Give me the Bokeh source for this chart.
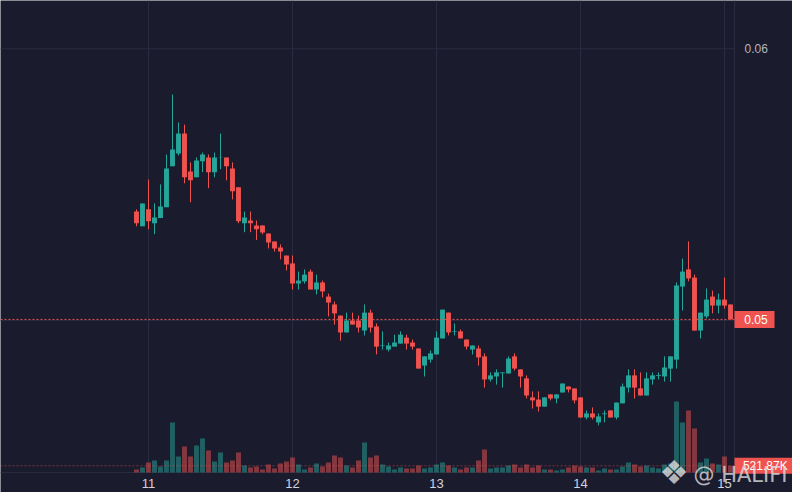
from bokeh.plotting import figure
from bokeh.models import Range1d, ColumnDataSource
from bokeh.core.properties import value
from bokeh.embed import file_html
from bokeh.resources import INLINE

# ---- data (hourly candles, x = hours from day "11" 00:00) ----
hours = list(range(-2, 98))
day_ticks = [0, 24, 48, 72, 96]
day_labels = ["11", "12", "13", "14", "15"]
price_ticks = [0.05, 0.06]
price_tick_labels = ["0.06"]          # 0.05 tick label is hidden under the last-price tag
price_tick_label_values = [0.06]

opens = [0.05401, 0.05347, 0.05409, 0.05358, 0.05377, 0.05417, 0.05568, 0.05615, 0.05688, 0.05548,
         0.05527, 0.05586, 0.05600, 0.05546, 0.05599, 0.05600, 0.05559, 0.05490, 0.05358, 0.05368,
         0.05350, 0.05350, 0.05320, 0.05291, 0.05269, 0.05239, 0.05210, 0.05136, 0.05144, 0.05180,
         0.05114, 0.05140, 0.05088, 0.05059, 0.05018, 0.04956, 0.05000, 0.05000, 0.04963, 0.05029,
         0.04978, 0.04907, 0.04893, 0.04904, 0.04915, 0.04937, 0.04919, 0.04897, 0.04834, 0.04856,
         0.04875, 0.04934, 0.05029, 0.04958, 0.04960, 0.04930, 0.04893, 0.04897, 0.04868, 0.04783,
         0.04794, 0.04806, 0.04805, 0.04868, 0.04820, 0.04787, 0.04717, 0.04709, 0.04683, 0.04728,
         0.04713, 0.04735, 0.04757, 0.04750, 0.04717, 0.04643, 0.04658, 0.04625, 0.04655, 0.04669,
         0.04643, 0.04695, 0.04753, 0.04798, 0.04750, 0.04724, 0.04783, 0.04796, 0.04794, 0.04823,
         0.04856, 0.05125, 0.05188, 0.05158, 0.04963, 0.05015, 0.05088, 0.05055, 0.05077, 0.05059]
highs = [0.05409, 0.05431, 0.05519, 0.05431, 0.05501, 0.05611, 0.05832, 0.05729, 0.05721, 0.05582,
         0.05600, 0.05618, 0.05611, 0.05618, 0.05688, 0.05600, 0.05582, 0.05490, 0.05401, 0.05401,
         0.05368, 0.05350, 0.05320, 0.05291, 0.05280, 0.05239, 0.05239, 0.05180, 0.05188, 0.05188,
         0.05169, 0.05147, 0.05099, 0.05070, 0.05018, 0.05029, 0.05029, 0.05018, 0.05059, 0.05040,
         0.04989, 0.04960, 0.04919, 0.04948, 0.04960, 0.04948, 0.04930, 0.04897, 0.04868, 0.04890,
         0.04960, 0.05040, 0.05029, 0.04989, 0.04967, 0.04930, 0.04908, 0.04908, 0.04879, 0.04809,
         0.04820, 0.04809, 0.04868, 0.04879, 0.04820, 0.04798, 0.04739, 0.04739, 0.04717, 0.04728,
         0.04728, 0.04768, 0.04757, 0.04750, 0.04717, 0.04669, 0.04680, 0.04658, 0.04669, 0.04669,
         0.04698, 0.04768, 0.04820, 0.04820, 0.04809, 0.04809, 0.04809, 0.04809, 0.04868, 0.04868,
         0.05140, 0.05228, 0.05291, 0.05169, 0.05029, 0.05118, 0.05110, 0.05099, 0.05158, 0.05059]
lows = [0.05347, 0.05347, 0.05336, 0.05318, 0.05377, 0.05417, 0.05568, 0.05607, 0.05505, 0.05435,
        0.05527, 0.05546, 0.05487, 0.05527, 0.05557, 0.05516, 0.05446, 0.05358, 0.05325, 0.05325,
        0.05296, 0.05317, 0.05265, 0.05254, 0.05225, 0.05184, 0.05114, 0.05114, 0.05136, 0.05114,
        0.05096, 0.05085, 0.05015, 0.04985, 0.04926, 0.04956, 0.04985, 0.04956, 0.04945, 0.04956,
        0.04875, 0.04893, 0.04886, 0.04904, 0.04915, 0.04893, 0.04893, 0.04823, 0.04794, 0.04845,
        0.04875, 0.04934, 0.04945, 0.04945, 0.04934, 0.04893, 0.04875, 0.04834, 0.04753, 0.04775,
        0.04764, 0.04753, 0.04805, 0.04816, 0.04753, 0.04713, 0.04676, 0.04665, 0.04683, 0.04706,
        0.04695, 0.04735, 0.04735, 0.04695, 0.04643, 0.04636, 0.04636, 0.04614, 0.04625, 0.04643,
        0.04636, 0.04695, 0.04735, 0.04713, 0.04724, 0.04724, 0.04764, 0.04783, 0.04775, 0.04775,
        0.04823, 0.05037, 0.05144, 0.04963, 0.04934, 0.05007, 0.05026, 0.05026, 0.05044, 0.05004]
closes = [0.05358, 0.05431, 0.05365, 0.05379, 0.05420, 0.05559, 0.05629, 0.05688, 0.05527, 0.05516,
          0.05589, 0.05611, 0.05546, 0.05600, 0.05600, 0.05568, 0.05476, 0.05365, 0.05379, 0.05358,
          0.05336, 0.05324, 0.05287, 0.05265, 0.05254, 0.05206, 0.05136, 0.05147, 0.05169, 0.05114,
          0.05140, 0.05107, 0.05066, 0.05026, 0.04956, 0.05000, 0.04985, 0.04974, 0.05029, 0.04974,
          0.04904, 0.04909, 0.04908, 0.04919, 0.04948, 0.04915, 0.04904, 0.04823, 0.04868, 0.04879,
          0.04937, 0.05040, 0.04956, 0.04960, 0.04934, 0.04904, 0.04908, 0.04864, 0.04783, 0.04798,
          0.04809, 0.04809, 0.04860, 0.04823, 0.04794, 0.04724, 0.04706, 0.04683, 0.04717, 0.04713,
          0.04728, 0.04768, 0.04746, 0.04706, 0.04643, 0.04658, 0.04643, 0.04647, 0.04658, 0.04643,
          0.04698, 0.04757, 0.04798, 0.04753, 0.04724, 0.04787, 0.04798, 0.04799, 0.04827, 0.04868,
          0.05129, 0.05180, 0.05155, 0.04963, 0.05029, 0.05077, 0.05055, 0.05077, 0.05055, 0.05004]
volumes = [234000, 389000, 779000, 935000, 467000, 935000, 3895000, 1246000, 2025000, 1246000,
           2103000, 2648000, 1714000, 857000, 1558000, 779000, 935000, 1558000, 545000, 389000,
           467000, 234000, 623000, 312000, 701000, 857000, 1168000, 623000, 234000, 389000,
           701000, 467000, 779000, 1324000, 1168000, 545000, 389000, 935000, 2337000, 1168000,
           1324000, 623000, 467000, 234000, 389000, 312000, 312000, 545000, 312000, 389000,
           623000, 779000, 545000, 389000, 234000, 389000, 389000, 935000, 1791000, 312000,
           389000, 389000, 545000, 623000, 389000, 623000, 389000, 545000, 234000, 234000,
           156000, 234000, 389000, 545000, 467000, 389000, 389000, 156000, 312000, 234000,
           234000, 467000, 779000, 623000, 467000, 545000, 389000, 312000, 623000, 701000,
           5530000, 3895000, 4829000, 3427000, 779000, 1090000, 701000, 623000, 1246000, 521870]
watermark = "@ HALIFI"
logo = "\u2756"

# ---- styling / layout constants ----
BG = "#1b1b2e"
GRID = "#2a2b3e"
UP = "#26a69a"
DOWN = "#ef5350"
FONT = value("Liberation Sans")

X_START, X_END = -24.6667, 107.3333          # full canvas, hours
Y_START, Y_END = 0.0436695, 0.0617776        # full canvas, price
CHART_RIGHT = 97.667                         # right edge of the candle pane
CHART_BOTTOM = 0.0444056                     # bottom edge of the candle pane
AXIS_LABEL_Y = 0.0439824                     # row of day labels
SCALE_TEXT_X = 99.333                        # left edge of price-scale texts

colors = [UP if c >= o else DOWN for o, c in zip(opens, closes)]
src = ColumnDataSource(dict(
    x=hours, high=highs, low=lows,
    top=[max(o, c) for o, c in zip(opens, closes)],
    bot=[min(o, c) for o, c in zip(opens, closes)],
    volume=volumes, color=colors))

p = figure(width=792, height=492, title=None,
           x_range=Range1d(X_START, X_END), y_range=Range1d(Y_START, Y_END),
           x_axis_location=None, y_axis_location=None,
           output_backend="svg", toolbar_location=None, min_border=0)
p.extra_y_ranges = {"vol": Range1d(-1557800, 36764080)}
p.background_fill_color = BG
p.border_fill_color = BG
p.outline_line_color = None
p.xgrid.visible = False
p.ygrid.visible = False

# grid lines and pane borders
p.segment(x0=day_ticks, y0=CHART_BOTTOM, x1=day_ticks, y1=Y_END, line_color=GRID, line_width=1)
p.segment(x0=X_START, y0=price_ticks, x1=CHART_RIGHT, y1=price_ticks, line_color=GRID, line_width=1)
p.segment(x0=[CHART_RIGHT], y0=CHART_BOTTOM, x1=[CHART_RIGHT], y1=Y_END, line_color=GRID, line_width=1)
p.segment(x0=[X_START], y0=CHART_BOTTOM, x1=[CHART_RIGHT], y1=CHART_BOTTOM, line_color=GRID, line_width=1)

# volume
p.vbar(x="x", top="volume", bottom=0, width=0.82, source=src, y_range_name="vol",
       fill_color="color", fill_alpha=0.5, line_color=None)
p.segment(x0=[X_START], y0=[volumes[-1]], x1=[CHART_RIGHT], y1=[volumes[-1]], y_range_name="vol",
          line_color=DOWN, line_alpha=0.45, line_dash="2 2", line_width=1)

# candles
p.segment(x0="x", y0="low", x1="x", y1="high", source=src, line_color="color", line_width=1)
p.vbar(x="x", top="top", bottom="bot", width=0.82, source=src, fill_color="color", line_color=None)

# last-price line
p.segment(x0=[X_START], y0=[closes[-1]], x1=[CHART_RIGHT], y1=[closes[-1]],
          line_color=DOWN, line_dash="2 2", line_width=1)

# price scale labels
p.text(x=SCALE_TEXT_X, y=price_tick_label_values, text=price_tick_labels, text_font=FONT,
       text_font_size="12px", text_color="#b2b5be", text_align="left", text_baseline="middle")
# last price tag
p.rect(x=[101.0], y=[closes[-1]], width=40, height=17, width_units="screen", height_units="screen",
       fill_color=DOWN, line_color=None)
p.text(x=[101.25], y=[closes[-1]], text=[f"{closes[-1]:.2f}"], text_font=FONT, text_font_size="12px",
       text_color="white", text_align="center", text_baseline="middle")
# last volume tag
p.rect(x=[102.5], y=[volumes[-1]], width=58, height=16, width_units="screen", height_units="screen",
       fill_color=DOWN, line_color=None, y_range_name="vol")
p.text(x=[102.8], y=[volumes[-1]], text=[f"{volumes[-1]/1000:.2f}K"], text_font=FONT,
       text_font_size="12px", text_color="white", text_align="center", text_baseline="middle",
       y_range_name="vol")

# day labels
p.text(x=day_ticks, y=AXIS_LABEL_Y, text=day_labels, text_font=FONT, text_font_size="13px",
       text_color="#d1d4dc", text_align="center", text_baseline="middle")

# watermark
p.text(x=[87.583], y=[0.0444056], text=[logo], text_font=value("DejaVu Sans"), text_font_size="33px",
       text_color="#e0e0e0", text_alpha=0.8, text_align="center", text_baseline="middle")
p.text(x=[90.833], y=[0.0442952], text=[watermark], text_font=value("DejaVu Sans"), text_font_size="21px",
       text_color="#e0e0e0", text_alpha=0.8, text_align="left", text_baseline="middle")

open("out.html", "w").write(file_html(p, INLINE))
